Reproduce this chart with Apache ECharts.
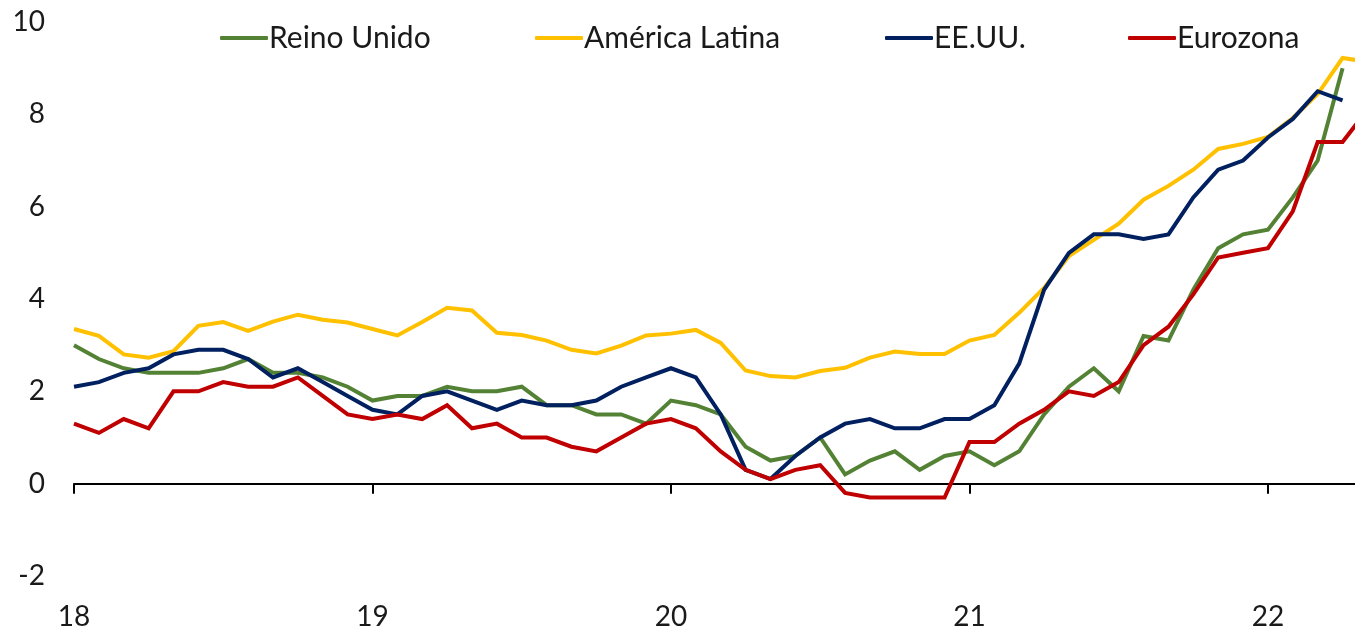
<!DOCTYPE html>
<html lang="es">
<head>
<meta charset="UTF-8">
<title>Inflación</title>
<script src="https://cdn.jsdelivr.net/npm/echarts@6/dist/echarts.min.js"></script>
<style>
  html, body { margin: 0; padding: 0; background: #fff; }
  #chart { width: 1355px; height: 631px; }
</style>
</head>
<body>
<div id="chart"></div>
<script>
// meses desde ene-2018 (índice 0), valores en %
var yearLabels = ['18', '19', '20', '21', '22'];
var yearTicks = [0, 12, 24, 36, 48];

var reinoUnido = [3.0, 2.7, 2.5, 2.4, 2.4, 2.4, 2.5, 2.7, 2.4, 2.4, 2.3, 2.1,
  1.8, 1.9, 1.9, 2.1, 2.0, 2.0, 2.1, 1.7, 1.7, 1.5, 1.5, 1.3,
  1.8, 1.7, 1.5, 0.8, 0.5, 0.6, 1.0, 0.2, 0.5, 0.7, 0.3, 0.6,
  0.7, 0.4, 0.7, 1.5, 2.1, 2.5, 2.0, 3.2, 3.1, 4.2, 5.1, 5.4,
  5.5, 6.2, 7.0, 9.0];

var americaLatina = [3.35, 3.2, 2.8, 2.73, 2.87, 3.42, 3.5, 3.31, 3.51, 3.66, 3.55, 3.49,
  3.35, 3.21, 3.5, 3.81, 3.75, 3.27, 3.22, 3.1, 2.9, 2.82, 2.99, 3.21,
  3.25, 3.33, 3.05, 2.45, 2.33, 2.3, 2.44, 2.51, 2.73, 2.86, 2.81, 2.81,
  3.1, 3.22, 3.7, 4.24, 4.93, 5.28, 5.63, 6.15, 6.45, 6.8, 7.25, 7.36,
  7.51, 7.92, 8.44, 9.22, 9.14];

var eeuu = [2.1, 2.2, 2.4, 2.5, 2.8, 2.9, 2.9, 2.7, 2.3, 2.5, 2.2, 1.9,
  1.6, 1.5, 1.9, 2.0, 1.8, 1.6, 1.8, 1.7, 1.7, 1.8, 2.1, 2.3,
  2.5, 2.3, 1.5, 0.3, 0.1, 0.6, 1.0, 1.3, 1.4, 1.2, 1.2, 1.4,
  1.4, 1.7, 2.6, 4.2, 5.0, 5.4, 5.4, 5.3, 5.4, 6.2, 6.8, 7.0,
  7.5, 7.9, 8.5, 8.3];

var eurozona = [1.3, 1.1, 1.4, 1.2, 2.0, 2.0, 2.2, 2.1, 2.1, 2.3, 1.9, 1.5,
  1.4, 1.5, 1.4, 1.7, 1.2, 1.3, 1.0, 1.0, 0.8, 0.7, 1.0, 1.3,
  1.4, 1.2, 0.7, 0.3, 0.1, 0.3, 0.4, -0.2, -0.3, -0.3, -0.3, -0.3,
  0.9, 0.9, 1.3, 1.6, 2.0, 1.9, 2.2, 3.0, 3.4, 4.1, 4.9, 5.0,
  5.1, 5.9, 7.4, 7.4, 8.1];

var names = ['Reino Unido', 'América Latina', 'EE.UU.', 'Eurozona'];
var colors = ['#548235', '#FFC000', '#002060', '#C00000'];
var values = [reinoUnido, americaLatina, eeuu, eurozona];
var legendLeft = [220, 535, 885, 1128];

function toPoints(arr) {
  return arr.map(function (v, i) { return [i, v]; });
}

var font = 'Lato, "Open Sans", sans-serif';
var txt = '#1a1a1a';

var chart = echarts.init(document.getElementById('chart'));

var legends = names.map(function (n, k) {
  return {
    data: [n],
    left: legendLeft[k],
    top: 23,
    icon: 'roundRect',
    itemWidth: 48,
    itemHeight: 4,
    itemGap: 4,
    padding: 0,
    textStyle: { fontFamily: font, fontSize: 30, color: txt, padding: [0, 0, 0, -4] }
  };
});

var option = {
  animation: false,
  backgroundColor: '#fff',
  legend: legends,
  grid: { left: 74, right: 0, top: 22, bottom: 55, containLabel: false, outerBoundsMode: 'none' },
  xAxis: [{
    type: 'value',
    min: 0, max: 51.5, interval: 12,
    axisLine: { onZero: true, lineStyle: { color: '#000', width: 2 } },
    axisTick: { show: true, length: 10, customValues: yearTicks, lineStyle: { color: '#000', width: 2 } },
    axisLabel: { show: false },
    splitLine: { show: false }
  }, {
    type: 'value',
    position: 'bottom',
    min: 0, max: 51.5, interval: 12,
    axisLine: { show: false, onZero: false },
    axisTick: { show: false },
    splitLine: { show: false },
    axisLabel: {
      margin: 27,
      customValues: yearTicks,
      fontFamily: font, fontSize: 28, color: txt,
      formatter: function (v) { return yearLabels[Math.round(v / 12)] || ''; }
    }
  }],
  yAxis: {
    type: 'value',
    min: -2, max: 10, interval: 2,
    axisLine: { show: false },
    axisTick: { show: false },
    splitLine: { show: false },
    axisLabel: { margin: 29, fontFamily: font, fontSize: 28, color: txt }
  },
  series: names.map(function (n, k) {
    return {
      name: n,
      type: 'line',
      xAxisIndex: 0,
      data: toPoints(values[k]),
      symbol: 'none',
      clip: true,
      color: colors[k],
      itemStyle: { color: colors[k] },
      lineStyle: { color: colors[k], width: 4, join: 'miter' },
      z: 2 + k
    };
  })
};

chart.setOption(option);
</script>
</body>
</html>
